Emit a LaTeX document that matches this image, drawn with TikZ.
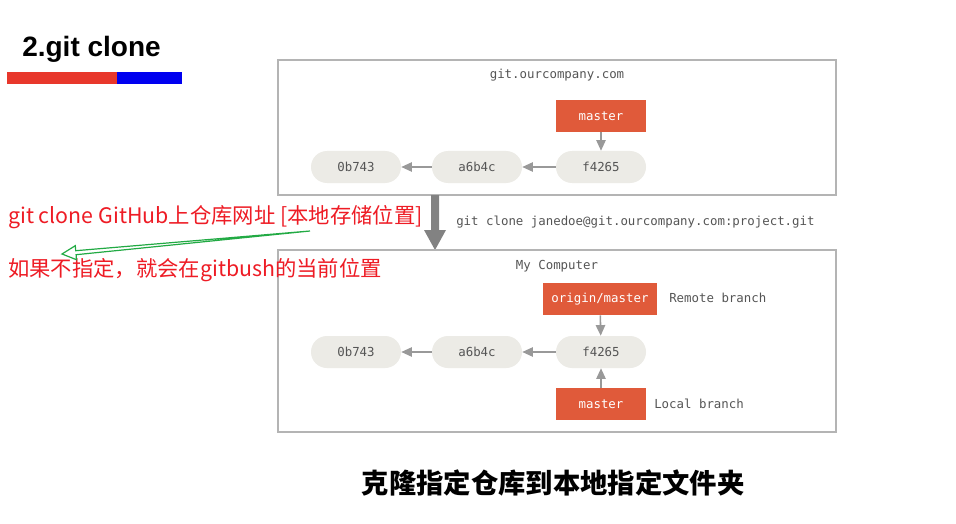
\documentclass[tikz,border=0pt]{standalone}
\usepackage{fontspec}
\setmainfont{Liberation Sans}
\setmonofont{DejaVu Sans Mono}
\newfontfamily\cjk{Noto Sans CJK SC}
\usetikzlibrary{arrows.meta}
\definecolor{frame}{HTML}{B4B4B4}
\definecolor{pill}{HTML}{ECEBE6}
\definecolor{branch}{HTML}{E05A3A}
\definecolor{ink}{HTML}{555555}
\definecolor{link}{HTML}{999999}
\definecolor{note}{HTML}{EE1C25}
\definecolor{hint}{HTML}{22AA44}
\definecolor{barred}{HTML}{E8372B}
\definecolor{barblue}{HTML}{0000F0}
\tikzset{
  x=0.75pt, y=-0.75pt,
  panel/.style={draw=frame, line width=1.1pt},
  commit/.style={fill=pill, rounded corners=12pt, minimum width=67.5pt,
    minimum height=24pt, inner sep=0pt, text=ink, font=\ttfamily\fontsize{9.3}{11}\selectfont},
  ref/.style={fill=branch, minimum height=24pt, inner sep=0pt,
    text=white, font=\ttfamily\fontsize{9.3}{11}\selectfont},
  label/.style={text=ink, inner sep=0pt, font=\ttfamily\fontsize{9.3}{11}\selectfont},
  parent/.style={draw=link, line width=1.2pt, -{Triangle[length=8pt,width=7pt]}},
  redtext/.style={text=note, inner sep=0pt, anchor=west, font=\cjk\fontsize{16}{19}\selectfont},
}
\begin{document}
\begin{tikzpicture}
\useasboundingbox (0,0) rectangle (956,524);
\fill[white] (0,0) rectangle (956,524);

% heading and its colour bar
\node[anchor=west, inner sep=0pt, font=\bfseries\fontsize{21}{24}\selectfont] (title) at (22,49) {2.git clone};
\fill[barred] (7,72) rectangle (117,84);
\fill[barblue] (117,72) rectangle (182,84);

% server repository
\draw[panel] (278,60) rectangle (836,195);
\node[label] (srv) at (557,75) {git.ourcompany.com};
\node[ref, minimum width=67.5pt] (smaster) at (601,116) {master};
\node[commit] (s3) at (601,167) {f4265};
\node[commit] (s2) at (477,167) {a6b4c};
\node[commit] (s1) at (356,167) {0b743};
\draw[parent] (smaster) -- (s3);
\draw[parent] (s3) -- (s2);
\draw[parent] (s2) -- (s1);

% clone step
\fill[link!85!black] (431,195) -- (439,195) -- (439,230) -- (446,230) -- (435,250) -- (424,230) -- (431,230) -- cycle;
\node[label, anchor=west] (cmd) at (456,222) {git clone janedoe@git.ourcompany.com:project.git};

% local repository
\draw[panel] (278,250) rectangle (836,432);
\node[label] (loc) at (557,266) {My Computer};
\node[ref, minimum width=86pt] (origin) at (600,299) {origin/master};
\node[label, anchor=west] (remote) at (669,298) {Remote branch};
\node[commit] (l3) at (601,352) {f4265};
\node[commit] (l2) at (477,352) {a6b4c};
\node[commit] (l1) at (356,352) {0b743};
\node[ref, minimum width=67.5pt] (lmaster) at (601,404) {master};
\node[label, anchor=west] (local) at (654,404) {Local branch};
\draw[parent] (origin) -- (l3);
\draw[parent] (lmaster) -- (l3);
\draw[parent] (l3) -- (l2);
\draw[parent] (l2) -- (l1);

% usage notes
\node[redtext] (usage) at (8,217) {git clone GitHub上仓库网址 [本地存储位置]};
\node[redtext] (default) at (8,270) {如果不指定，就会在gitbush的当前位置};
\draw[hint, line width=0.9pt, fill=white, line join=miter]
  (310,231) -- (76.1,254.7) -- (76.5,259.7) -- (62,254) -- (75.3,245.7) -- (75.7,250.7) -- cycle;

% caption
\node[inner sep=0pt, font=\cjk\bfseries\fontsize{20.5}{24}\selectfont] (caption) at (553,483) {克隆指定仓库到本地指定文件夹};
\end{tikzpicture}
\end{document}
